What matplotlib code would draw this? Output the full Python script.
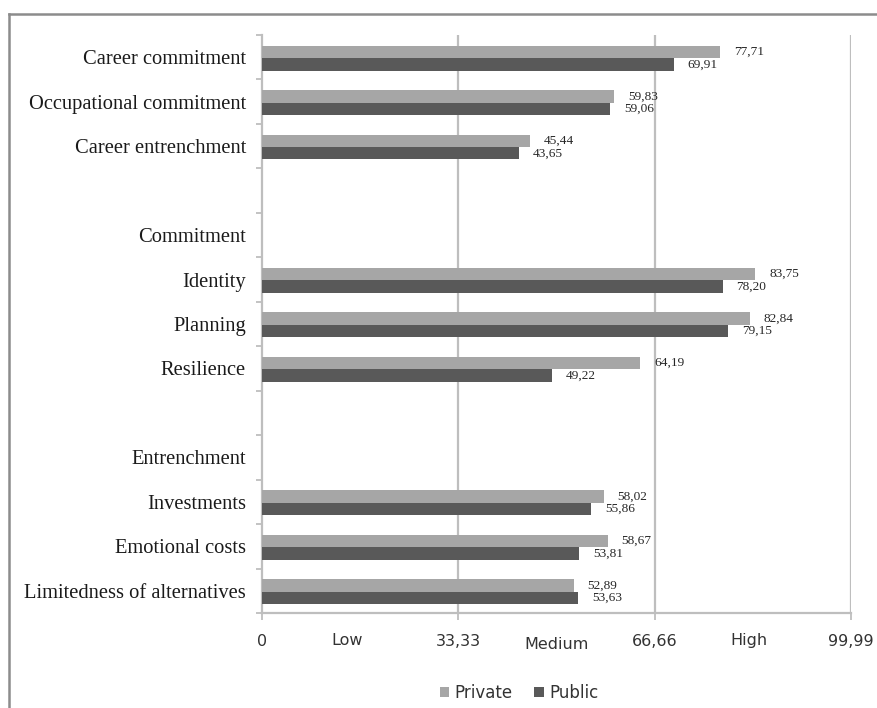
import numpy as np
import matplotlib
matplotlib.use("Agg")
import matplotlib.pyplot as plt
from matplotlib.lines import Line2D
from matplotlib.patches import Patch

# Rows from top to bottom; empty strings are spacer rows between groups
categories = ["Career commitment", "Occupational commitment", "Career entrenchment", "",
              "Commitment", "Identity", "Planning", "Resilience", "",
              "Entrenchment", "Investments", "Emotional costs", "Limitedness of alternatives"]
private = [77.71, 59.83, 45.44, np.nan, np.nan, 83.75, 82.84, 64.19, np.nan, np.nan,
           58.02, 58.67, 52.89]
public = [69.91, 59.06, 43.65, np.nan, np.nan, 78.20, 79.15, 49.22, np.nan, np.nan,
          55.86, 53.81, 53.63]

x_ticks = [0, 33.33, 66.66, 99.99]
x_tick_labels = ["0", "33,33", "66,66", "99,99"]
level_names = ["Low", "Medium", "High"]
level_positions = [14.4, 50.0, 82.7]

series_names = ["Private", "Public"]
light = "#A6A6A6"
dark = "#595959"
axis_grey = "#BEBEBE"
text_grey = "#333333"

serif = "Liberation Serif"
sans = "DejaVu Sans"

fig = plt.figure(figsize=(8.77, 7.08), dpi=100)
W, H = 877, 708
left, right, top, bottom = 262, 851, 35, 613
ax = fig.add_axes([left / W, 1 - bottom / H, (right - left) / W, (bottom - top) / H])

y = np.arange(len(categories))
bar_h = 0.28
shift = 0.02


def fmt(v):
    return f"{v:.2f}".replace(".", ",")


for vals, off, color in [(private, -bar_h / 2, light), (public, bar_h / 2, dark)]:
    vals = np.asarray(vals, dtype=float)
    mask = ~np.isnan(vals)
    bars = ax.barh(y[mask] + off + shift, vals[mask], height=bar_h, color=color,
                   edgecolor="none", zorder=3)
    ax.bar_label(bars, labels=[fmt(v) for v in vals[mask]], padding=10,
                 fontsize=9.6, family=serif, color="#262626")

ax.set_xlim(0, 99.99)
ax.set_ylim(len(categories) - 0.5, -0.5)

# Vertical gridlines
for xv in x_ticks[1:]:
    ax.axvline(xv, color=axis_grey, lw=1.6, zorder=1)

for side in ["top", "right"]:
    ax.spines[side].set_visible(False)
for side in ["left", "bottom"]:
    ax.spines[side].set_color(axis_grey)
    ax.spines[side].set_linewidth(1.6)

ax.set_yticks(y)
ax.set_yticklabels(categories, fontsize=14.8, family=serif, color="#1a1a1a")
ax.set_yticks(np.arange(-0.5, len(categories) + 0.5, 1), minor=True)
ax.tick_params(axis="y", which="major", length=0, pad=11.5)
ax.tick_params(axis="y", which="minor", length=4.5, width=1.3, color=axis_grey)

ax.set_xticks(x_ticks)
ax.set_xticklabels(x_tick_labels, fontsize=11.5, family=sans, color=text_grey)
ax.tick_params(axis="x", which="major", length=5, width=1.3, color=axis_grey, pad=10)

for name, xp, yo in zip(level_names, level_positions, [-0.048, -0.055, -0.048]):
    ax.text(xp, yo, name, transform=ax.get_xaxis_transform(), ha="center", va="center",
            fontsize=11.5, family=sans, color=text_grey)

handles = [Patch(facecolor=light, edgecolor="none"), Patch(facecolor=dark, edgecolor="none")]
fig.legend(handles, series_names, loc="center", bbox_to_anchor=(0.592, 1 - 693 / H),
           ncol=2, frameon=False, handlelength=0.55, handleheight=0.55, handletextpad=0.35,
           columnspacing=1.3, prop={"family": sans, "size": 12}, labelcolor=text_grey)

# Outer chart frame (top and left edges)
fig.add_artist(Line2D([9 / W, 9 / W], [0, 1 - 14 / H], transform=fig.transFigure,
                      color="#8C8C8C", lw=1.8))
fig.add_artist(Line2D([9 / W, 1], [1 - 14 / H, 1 - 14 / H], transform=fig.transFigure,
                      color="#8C8C8C", lw=1.8))

fig.savefig("out.png", dpi=100)
